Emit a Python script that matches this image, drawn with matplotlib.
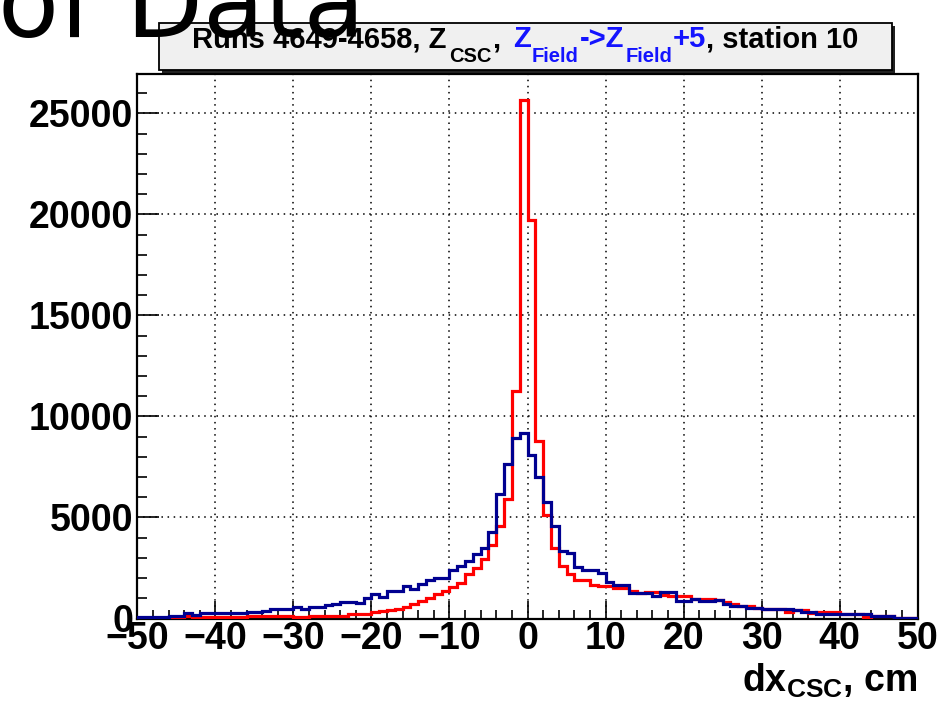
import numpy as np
import matplotlib
matplotlib.use('Agg')
import matplotlib.pyplot as plt
from matplotlib.patches import Rectangle
from matplotlib.ticker import MultipleLocator

plt.rcParams['font.family'] = ['Liberation Sans', 'DejaVu Sans']
plt.rcParams['font.weight'] = 'bold'
plt.rcParams['mathtext.fontset'] = 'custom'
plt.rcParams['mathtext.rm'] = 'Liberation Sans:bold'
plt.rcParams['mathtext.bf'] = 'Liberation Sans:bold'
plt.rcParams['mathtext.it'] = 'Liberation Sans:bold'
plt.rcParams['mathtext.default'] = 'rm'

# ---------------- data ----------------
bin_edges = np.arange(-50, 51, 1)

red_counts = [
    20, 20, 20, 20, 30, 30, 100, 70, 70, 70,
    70, 70, 70, 70, 130, 130, 130, 130, 130, 130,
    70, 70, 120, 100, 130, 130, 130, 215, 215, 215,
    330, 380, 430, 495, 580, 740, 875, 1010, 1200, 1340,
    1540, 1780, 2200, 2520, 2940, 3630, 4590, 5900, 11260, 25670,
    19750, 8800, 5100, 3510, 2610, 2200, 1900, 1900, 1670, 1620,
    1620, 1500, 1500, 1340, 1250, 1320, 1300, 1170, 1120, 1090,
    1090, 960, 960, 960, 900, 830, 720, 620, 620, 500,
    470, 470, 470, 340, 420, 420, 255, 340, 340, 340,
    220, 220, 220, 90, 140, 140, 140, 30, 30, 30,
]

blue_counts = [
    60, 60, 60, 60, 140, 140, 250, 180, 250, 250,
    260, 260, 260, 260, 340, 340, 370, 470, 470, 470,
    550, 490, 550, 580, 680, 740, 820, 820, 780, 1000,
    1230, 1070, 1370, 1370, 1620, 1450, 1700, 1900, 2000, 2000,
    2390, 2600, 2850, 3200, 3500, 4300, 6150, 7650, 8950, 9180,
    8080, 7010, 5790, 4590, 3320, 3230, 2560, 2390, 2390, 2230,
    1830, 1670, 1670, 1240, 1240, 1240, 1120, 1290, 1290, 870,
    870, 960, 870, 870, 900, 720, 620, 620, 500, 500,
    450, 450, 450, 450, 420, 340, 340, 220, 220, 220,
    220, 220, 220, 220, 140, 140, 140, 30, 30, 30,
]

x_ticks = [-50, -40, -30, -20, -10, 0, 10, 20, 30, 40, 50]
y_ticks = [0, 5000, 10000, 15000, 20000, 25000]

# ---------------- figure ----------------
W, H = 951, 708
fig = plt.figure(figsize=(W / 100, H / 100), dpi=100)
fig.patch.set_facecolor('white')

left, right, top, bottom = 137.3, 917.7, 74.0, 618.5
ax = fig.add_axes([left / W, 1 - bottom / H, (right - left) / W, (bottom - top) / H])

ax.stairs(red_counts, bin_edges, color='#ff0000', lw=2.3, zorder=3)
ax.stairs(blue_counts, bin_edges, color='#000090', lw=2.3, zorder=4)

ax.set_xlim(-50, 50)
ax.set_ylim(0, max(red_counts) * 1.05)

ax.set_xticks(x_ticks)
ax.set_yticks(y_ticks)
ax.set_xticklabels([f"\u2212{abs(v)}" if v < 0 else str(v) for v in x_ticks])
ax.set_yticklabels([str(v) for v in y_ticks])
ax.xaxis.set_minor_locator(MultipleLocator(2))
ax.yaxis.set_minor_locator(MultipleLocator(1000))

ax.tick_params(axis='both', which='both', direction='in', colors='black',
               labelsize=27, width=1.2)
ax.tick_params(axis='x', which='major', length=13, pad=2)
ax.tick_params(axis='x', which='minor', length=6.5)
ax.tick_params(axis='y', which='major', length=16, pad=3)
ax.tick_params(axis='y', which='minor', length=7.5)
ax.tick_params(top=False, right=False)
for lab in ax.get_xticklabels() + ax.get_yticklabels():
    lab.set_fontweight('bold')

for sp in ax.spines.values():
    sp.set_linewidth(1.6)
    sp.set_color('black')

ax.grid(True, which='major', color='black', linestyle=(0, (1, 3)), linewidth=1.1)
ax.set_axisbelow(False)

# x axis label
fig.text(917 / W, 1 - 692 / H, r"dx$_{\mathbf{CSC}}$, cm", ha='right', va='baseline',
         fontsize=27, fontweight='bold')

# big clipped title (drawn above the title box, as in the reference)
fig.text(-2 / W, 1 - 37.5 / H, "of Data", ha='left', va='baseline',
         fontsize=72, fontweight='normal', family='DejaVu Sans', zorder=10)

# title box with shadow
bx0, bx1, by0, by1 = 159, 892, 22.5, 69.5
fig.patches.append(Rectangle(((bx0 + 3) / W, 1 - (by1 + 3) / H), (bx1 - bx0) / W, (by1 - by0) / H,
                             transform=fig.transFigure, facecolor='#222222', edgecolor='none', zorder=2))
fig.patches.append(Rectangle((bx0 / W, 1 - by1 / H), (bx1 - bx0) / W, (by1 - by0) / H,
                             transform=fig.transFigure, facecolor='#f0f0f0', edgecolor='black',
                             linewidth=1.3, zorder=3))

main_size = 21.0
sub_size = 14.5
base_main = 47.0
base_sub = 62.0
blue = '#1414ff'
parts = [
    ("Runs 4649-4658, Z", 'black', main_size, base_main, 0),
    ("CSC", 'black', sub_size, base_sub, 2),
    (",", 'black', main_size, base_main, 1),
    ("Z", blue, main_size, base_main, 13),
    ("Field", blue, sub_size, base_sub, 1),
    ("->Z", blue, main_size, base_main, 1),
    ("Field", blue, sub_size, base_sub, 1),
    ("+5", blue, main_size, base_main, 1),
    (", station 10", 'black', main_size, base_main, 0),
]
fig.canvas.draw()
renderer = fig.canvas.get_renderer()
texts, widths, gaps = [], [], []
for s, c, fs, yb, gap in parts:
    t = fig.text(0, 1 - yb / H, s, color=c, fontsize=fs, fontweight='bold',
                 ha='left', va='baseline', zorder=5)
    texts.append(t)
    widths.append(t.get_window_extent(renderer).width)
    gaps.append(gap)
total = sum(widths) + sum(gaps)
x = (bx0 + bx1) / 2 - total / 2
for t, w, g in zip(texts, widths, gaps):
    x += g
    t.set_x(x / W)
    x += w

fig.savefig('out.png', dpi=100, facecolor='white')
